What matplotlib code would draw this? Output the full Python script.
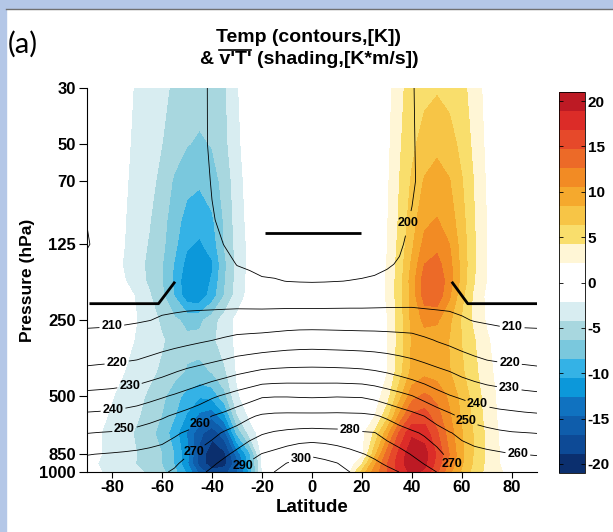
import numpy as np
import matplotlib
matplotlib.use("Agg")
import matplotlib.pyplot as plt
from matplotlib.patches import Rectangle
from matplotlib.lines import Line2D
from matplotlib.ticker import NullLocator

plt.rcParams['font.family'] = ['Liberation Sans', 'DejaVu Sans']
plt.rcParams['font.weight'] = 'bold'
plt.rcParams['axes.labelweight'] = 'bold'
plt.rcParams['axes.unicode_minus'] = False

# grid: latitude -90..90 every 5 deg, pressure levels in hPa
lat = np.arange(-90, 91, 5)
plev = [30, 50, 70, 100, 125, 150, 175, 200, 250, 300, 400, 500, 600, 700, 850, 925, 1000]

# zonal mean temperature [K]  (cols: -90..-50 | -45..-5 | 0 | 5..45 | 50..90)
temp = [
    [205, 205, 205, 204.8, 204.5, 204, 203.5, 203, 202.5,
     202, 198.8, 197.5, 196.8, 196.5, 196.3, 196.2, 196.1, 196, 196,
     196, 196.1, 196.2, 196.3, 196.5, 196.8, 197.6, 199.5, 202.5,
     203, 203.5, 204, 204.4, 204.7, 204.9, 205, 205, 205],
    [205.5, 205.4, 205.2, 205, 204.6, 204.2, 203.7, 203.2, 202.7,
     202.1, 198.8, 197.6, 197, 196.6, 196.4, 196.3, 196.2, 196.1, 196,
     196.1, 196.2, 196.3, 196.4, 196.6, 197, 197.8, 199.3, 202.3,
     203, 203.6, 204.1, 204.6, 205, 205.2, 205.4, 205.5, 205.5],
    [206, 205.8, 205.6, 205.3, 205, 204.6, 204.1, 203.6, 203.1,
     202.5, 199.6, 198, 197.3, 196.8, 196.6, 196.4, 196.3, 196.2, 196,
     196.2, 196.3, 196.4, 196.6, 196.8, 197.3, 198, 199.2, 202,
     203, 203.7, 204.3, 204.8, 205.2, 205.5, 205.8, 206, 206],
    [209.8, 207, 206.5, 206, 205.6, 205.2, 204.7, 204.1, 203.3,
     202, 200.5, 198.5, 197.6, 197.1, 196.8, 196.6, 196.5, 196.5, 196.5,
     196.5, 196.5, 196.6, 196.8, 197.1, 197.6, 198.5, 200.5, 202.2,
     203.3, 204.1, 204.8, 205.3, 205.7, 206.1, 206.4, 206.7, 207],
    [210.6, 208, 207, 206.5, 206, 205.6, 205.1, 204.5, 203.8,
     203, 202, 199.8, 198.5, 197.8, 197.4, 197.1, 197, 197, 197,
     197, 197, 197.1, 197.4, 197.9, 198.6, 199.3, 201.5, 203,
     203.9, 204.6, 205.2, 205.7, 206.1, 206.5, 206.8, 207, 207.2],
    [208, 207.5, 207.2, 206.9, 206.5, 206.1, 205.6, 205.1, 204.5,
     203.7, 203, 202, 199.8, 199.2, 198.5, 198.2, 198.1, 198, 198,
     198, 198.1, 198.2, 198.6, 199.1, 199.4, 200.5, 202.5, 203.7,
     204.5, 205.1, 205.6, 206.1, 206.5, 206.9, 207.1, 207.3, 207.4],
    [207.5, 207.3, 207.2, 207, 206.8, 206.6, 206.3, 206, 205.6,
     205.1, 204.5, 203.6, 202.5, 201.5, 200.6, 200.4, 199.9, 199.7, 199.6,
     199.7, 199.9, 200.1, 200.3, 200.5, 201.5, 202.8, 204.3, 205,
     205.5, 205.9, 206.3, 206.6, 206.9, 207.1, 207.3, 207.4, 207.5],
    [207.5, 207.5, 207.5, 207.5, 207.5, 207.5, 207.5, 207, 206.8,
     206.5, 206.2, 206, 205.8, 205.5, 205.3, 205.2, 205, 204.8, 204.7,
     204.8, 205, 205.2, 205.3, 205.5, 205.8, 206, 206.2, 206.5,
     206.8, 207, 207.5, 207.5, 207.5, 207.5, 207.5, 207.5, 207.5],
    [208.5, 208.6, 208.8, 209, 209.4, 209.9, 210.7, 211.4, 212.1,
     212.6, 213.1, 213.6, 214.1, 214.3, 214.4, 214.7, 215.1, 215.4, 215.4,
     215.4, 215.3, 215.2, 215.1, 215.1, 215, 214.9, 214.7, 213.5,
     212.6, 211.9, 210.6, 209.7, 209.3, 208.9, 208.7, 208.6, 208.5],
    [212.4, 212.6, 212.9, 213.4, 213.9, 214.9, 216.1, 217, 217.9,
     218.9, 219.9, 221.2, 222.5, 223, 223.5, 224.2, 224.9, 225.3, 225.5,
     225.3, 225.1, 224.9, 224.7, 224.5, 224.1, 223.6, 223.1, 221.4,
     219.5, 218, 216.3, 214.7, 213.4, 212.8, 212.6, 212.5, 212.4],
    [222, 222.5, 222.9, 223.5, 224.2, 225.9, 227.6, 229.6, 231.6,
     233.2, 234.8, 236.4, 238.3, 239.8, 241.4, 242.1, 242.5, 242.7, 242.8,
     242.7, 242.5, 242.2, 241.7, 240.7, 239.3, 237.5, 235.6, 233.9,
     232, 230.1, 227.8, 226, 224.4, 223.6, 223.1, 222.5, 221.9],
    [232.6, 233, 233.5, 234.5, 235.6, 237.3, 239.1, 241, 243.2,
     245.7, 248.7, 251.2, 253.8, 256.3, 259.1, 259.5, 259.5, 259.2, 259,
     259.2, 259.5, 259.3, 259.1, 257.5, 255.1, 252.8, 250.3, 246.7,
     243.2, 240.5, 238.5, 236.7, 235.3, 234.2, 233.4, 232.6, 232],
    [242, 242.4, 242.8, 243.8, 245, 246.8, 248.8, 251.2, 253.6,
     256.3, 260.1, 262.6, 265.8, 268.9, 271.2, 272, 272.2, 272.2, 272.2,
     272.2, 272.3, 272.1, 271.9, 271, 268.5, 265.5, 263, 259.9,
     255.7, 252.1, 248.5, 246, 244.5, 243.4, 242.7, 242, 241.5],
    [249.8, 250.3, 250.7, 251.8, 252.9, 254.5, 256.2, 258.7, 261.1,
     264, 267.7, 271, 273.5, 276.4, 279.2, 280.9, 282, 282.8, 283.2,
     282.8, 282.5, 281.8, 280.8, 280.3, 277.2, 274, 271.4, 268.9,
     264.3, 260.6, 257.7, 254.9, 252.9, 251.5, 250.6, 250.2, 249.8],
    [259.7, 260.2, 260.7, 261.2, 261.8, 262.6, 263.5, 265.7, 269.4,
     272.3, 275.2, 278.5, 282.2, 286.7, 290.4, 292.6, 295.4, 298.1, 299.3,
     298.1, 295.6, 293, 290.5, 288.2, 285.3, 282.9, 279.5, 276.2,
     273.2, 267, 264.5, 263.3, 262.3, 261.3, 260.2, 259.9, 259.6],
    [262.4, 262.9, 263.4, 264, 264.6, 265.4, 266.2, 268.9, 272.1,
     275.1, 278.5, 282.4, 286.4, 291, 293.7, 296.6, 300.3, 301.5, 301.8,
     301.5, 300.3, 296.8, 294, 291.7, 288.8, 286.4, 283.1, 279.6,
     276.6, 270.3, 267.3, 265.9, 264.9, 264, 263.1, 262.6, 262.3],
    [265, 265.5, 266, 266.7, 267.5, 268.2, 269, 271, 274.5,
     278, 281.8, 286.4, 290.2, 293.8, 297, 300.1, 302, 303.5, 304,
     303.5, 302, 300.1, 297.6, 295, 292.5, 289.9, 286.7, 283.3,
     279.9, 275, 269.8, 268.5, 267.5, 266.7, 266, 265.5, 265],
]

# eddy heat flux v'T' [K m/s]
vt = [
    [0, 0, -0.3, -1.2, -2.5, -3.2, -3.8, -4.5, -5.2,
     -5.6, -5.4, -4.5, -2.3, -0.8, -0.3, 0, 0, 0, 0,
     0, 0, 0, 0, 0.2, 1.2, 3.6, 5.2, 5.8,
     6.1, 5.7, 4.8, 3.2, 1.3, 0.4, 0, 0, 0],
    [0, 0, -0.5, -1.6, -2.7, -3.5, -4.2, -5.2, -6.2,
     -6.6, -6.2, -4.8, -2.6, -1, -0.4, -0.1, 0, 0, 0,
     0, 0, 0, 0.1, 0.3, 1.5, 3.9, 5.8, 7.2,
     7.9, 7.2, 5.6, 3.6, 1.6, 0.5, 0.1, 0, 0],
    [0, -0.2, -0.8, -1.8, -2.9, -3.8, -4.6, -6.7, -7.8,
     -8.1, -7.2, -5.6, -3, -1.2, -0.5, -0.1, 0, 0, 0,
     0, 0, 0.1, 0.2, 0.4, 1.7, 4.2, 6.6, 8.6,
     9.3, 8.5, 6.4, 4, 1.8, 0.6, 0.1, 0, 0],
    [0, -0.3, -1, -2, -3.1, -4.1, -5.5, -7.5, -9.2,
     -9.8, -8.8, -6, -3.3, -1.4, -0.6, -0.2, 0, 0, 0,
     0, 0, 0.1, 0.2, 0.5, 1.9, 4.5, 7.4, 10,
     10.6, 9.5, 7, 4.2, 2, 0.7, 0.2, 0, 0],
    [0, -0.4, -1.1, -2.1, -3.3, -4.4, -5.8, -7.9, -10.2,
     -10.8, -9.6, -6.2, -3.5, -1.6, -0.7, -0.2, 0, 0, 0,
     0, 0, 0.1, 0.2, 0.6, 2, 4.8, 8, 11.2,
     12, 10.5, 7.4, 4.4, 2.1, 0.8, 0.2, 0, 0],
    [0, -0.4, -1.2, -2.3, -3.5, -4.7, -6.2, -8.6, -11.3,
     -12, -10.8, -6.8, -3.6, -1.6, -0.7, -0.2, 0, 0, 0,
     0, 0, 0.1, 0.3, 0.7, 2.2, 5.1, 8.8, 12.6,
     13.3, 11.2, 7.6, 4.4, 2.1, 0.8, 0.2, 0, 0],
    [0, -0.3, -1, -2, -3.2, -4.6, -6.3, -8.9, -12.2,
     -12.4, -10.2, -6.5, -3.5, -1.5, -0.6, -0.2, 0, 0, 0,
     0, 0, 0.1, 0.3, 0.7, 2.3, 5.3, 9.4, 13.8,
     14.3, 11.5, 7.5, 4.2, 2, 0.7, 0.2, 0, 0],
    [0, -0.2, -0.6, -1.4, -2.3, -4, -5.8, -8.5, -11.8,
     -12, -9.5, -6.2, -3.3, -1.4, -0.5, -0.1, 0, 0, 0,
     0, 0, 0.1, 0.3, 0.7, 2.3, 5.3, 9.2, 13.5,
     13.9, 10.8, 6.8, 3.6, 1.6, 0.5, 0.1, 0, 0],
    [0, -0.2, -0.6, -1.3, -2.1, -3.2, -4.6, -5.9, -6.9,
     -6.8, -5.2, -3.2, -1.6, -0.7, -0.3, 0, 0, 0, 0,
     0, 0, 0.1, 0.3, 0.6, 2, 5.2, 9, 11,
     10.8, 8.8, 6, 3.6, 1.8, 0.6, 0.1, 0, 0],
    [0, -0.3, -0.8, -1.5, -2.3, -3.1, -4, -5, -5.8,
     -5.7, -4.7, -3.1, -1.7, -0.8, -0.3, -0.1, 0, 0, 0,
     0, 0, 0.1, 0.3, 0.6, 1.9, 5, 8.6, 9.5,
     9.4, 8.3, 6.2, 4.3, 2.4, 1, 0.3, 0.1, 0],
    [-0.2, -0.6, -1.3, -2.1, -2.9, -3.7, -4.6, -5.6, -6.5,
     -6.8, -6.2, -4.6, -1.9, -0.8, -0.3, -0.1, 0, 0, 0,
     0, 0, 0.1, 0.3, 0.6, 2, 5.4, 9, 9.9,
     9.6, 8.5, 6.6, 4.7, 2.8, 1.3, 0.4, 0.1, 0],
    [-0.8, -1.2, -2, -2.8, -3.6, -4.6, -5.8, -7.5, -9.2,
     -10.3, -9.8, -7, -2.4, -1, -0.4, -0.1, 0, 0, 0,
     0, 0, 0.1, 0.4, 1, 3.2, 7.6, 11.8, 13,
     12, 10, 7.6, 5.3, 3.2, 1.6, 0.6, 0.2, 0],
    [-1.2, -1.6, -2.4, -3.2, -4, -5, -6.4, -8.3, -10.8,
     -13.2, -14.2, -11, -4.5, -1.8, -0.5, -0.1, 0, 0, 0,
     0, 0, 0.1, 0.4, 2, 5.5, 11, 15.2, 15.8,
     13.5, 10.8, 8, 5.6, 3.4, 1.7, 0.6, 0.2, 0],
    [-1.5, -2, -2.8, -3.6, -4.5, -5.6, -7.2, -9.5, -12.8,
     -16.2, -18.2, -15.5, -8, -3.5, -1, -0.2, 0, 0, 0,
     0, 0, 0.3, 1.5, 4.5, 9.5, 15, 18.5, 18,
     15, 11.5, 8.5, 6, 3.7, 1.9, 0.7, 0.2, 0],
    [-1.5, -2, -2.6, -3.4, -4.2, -5, -6.3, -8.5, -12,
     -17.5, -20.5, -19.5, -14, -9, -1.5, -0.3, 0, 0, 0,
     0, 0, 0.2, 1.5, 7.5, 13.5, 17.5, 20.5, 19.8,
     16.5, 12.5, 8.8, 6, 3.8, 2.1, 0.9, 0.3, 0],
    [-1.6, -2.2, -2.8, -3.5, -4.3, -5.1, -6.4, -8.6, -12.2,
     -17.8, -20.2, -19.8, -15.5, -9.5, -2, -0.5, -0.1, 0, 0,
     0, 0.1, 0.8, 4, 10, 14.5, 18, 20.5, 19.5,
     16, 12, 8.6, 5.8, 3.7, 2.1, 0.9, 0.3, 0],
    [-1.4, -2, -2.5, -3.1, -3.8, -4.6, -5.8, -7.8, -11,
     -15.5, -18.2, -17.5, -15, -10, -2.2, -0.6, -0.2, 0, 0,
     0, 0.2, 1.8, 7, 11.5, 14.5, 17.5, 19.5, 18.5,
     15, 11, 8, 5.4, 3.6, 2.4, 1.2, 0.4, 0],
]

temp = np.array(temp)
vt = np.array(vt)
assert temp.shape == (len(plev), len(lat)) and vt.shape == temp.shape

t_levels = np.arange(200, 301, 10)
vt_levels = np.linspace(-21, 21, 21)
vt_colors = ['#0b2f6e', '#0d4a96', '#0f5dab', '#1072c0', '#0c98da',
             '#34b2e6', '#7ac8dd', '#a8d7df', '#d8edf1', '#ffffff',
             '#ffffff', '#fff6d6', '#f9de6c', '#f7c546', '#f5a92d',
             '#f28b24', '#ec6a28', '#e6492a', '#dc2c28', '#bd1a24']

# tropopause markers
trop_l_lat, trop_l_p = [-89, -61.4, -54.8], [215, 215, 176]
trop_m_lat, trop_m_p = [-18.8, 19.4], [113, 113]
trop_r_lat, trop_r_p = [55.9, 62.3, 90], [176, 215, 215]

# contour label spots (lat, hPa)
lab_lat = [-80, -78, -73, -79.6, -75, -45.5, -47.5, -27.5, 15.3, -4.7,
           38.7, 80, 79, 78.9, 66.2, 61.5, 82.3, 55.5]
lab_p = [269, 372, 453, 565, 676, 631, 818, 949, 672, 862,
         103, 275, 370, 465, 536, 627, 860, 940]

W, H = 613, 532
fig = plt.figure(figsize=(W / 100, H / 100), dpi=100)

# light blue frame on top/left like the slide
fig.patches.append(Rectangle((0, 1 - 8 / H), 1, 8 / H, transform=fig.transFigure,
                             color='#b4c7e7', zorder=0))
fig.patches.append(Rectangle((0, 0), 6 / W, 1, transform=fig.transFigure,
                             color='#b4c7e7', zorder=0))
fig.add_artist(Line2D([6 / W, 1], [1 - 8.5 / H, 1 - 8.5 / H], transform=fig.transFigure,
                      color='#707070', lw=1))

ax = fig.add_axes([87 / W, 60 / H, 450 / W, 384 / H])
ax.set_yscale('log')
cf = ax.contourf(lat, plev, vt, levels=vt_levels, colors=vt_colors)
cs = ax.contour(lat, plev, temp, levels=t_levels, colors='k', linewidths=0.6)
ax.set_xlim(-90, 90)
ax.set_ylim(1000, 30)

ax.plot(trop_l_lat, trop_l_p, color='k', lw=2, solid_capstyle='butt')
ax.plot(trop_m_lat, trop_m_p, color='k', lw=2, solid_capstyle='butt')
ax.plot(trop_r_lat, trop_r_p, color='k', lw=2, solid_capstyle='butt')

labels = ax.clabel(cs, fmt='%d', fontsize=9, inline=True, inline_spacing=2,
                   manual=list(zip(lab_lat, lab_p)))
for t in labels:
    t.set_rotation(0)
    t.set_fontweight('bold')

ax.set_xticks(range(-80, 81, 20))
ax.set_yticks([30, 50, 70, 125, 250, 500, 850, 1000])
ax.set_yticklabels(['30', '50', '70', '125', '250', '500', '850', '1000'])
ax.yaxis.set_minor_locator(NullLocator())
ax.tick_params(axis='both', labelsize=12, direction='out', width=0.8, pad=2)
ax.tick_params(axis='y', length=6)
ax.tick_params(axis='x', length=4)
for s in ['top', 'right']:
    ax.spines[s].set_visible(False)
for s in ['left', 'bottom']:
    ax.spines[s].set_linewidth(0.8)
ax.set_xlabel('Latitude', fontsize=13.5, labelpad=3)
ax.set_ylabel('Pressure (hPa)', fontsize=12.5, labelpad=3)

cax = fig.add_axes([559 / W, 59 / H, 26 / W, 381 / H])
cb = fig.colorbar(cf, cax=cax, ticks=range(-20, 21, 5))
cb.ax.tick_params(direction='in', length=3, width=0.6, left=True, right=True,
                  labelsize=11, pad=2)
cb.ax.minorticks_off()
cb.outline.set_linewidth(0.6)

# panel letter and two-line title
fig.text(8 / W, 1 - 44 / H, '(a)', fontsize=21, family='Lato', weight='normal',
         ha='left', va='center')
title_fs = 14
xc = (87 + 222) / W
fig.text(xc, 1 - 38 / H, 'Temp (contours,[K])', fontsize=title_fs, ha='center', va='center')
line2 = "& v'T' (shading,[K*m/s])"
t2 = fig.text(xc, 1 - 59 / H, line2, fontsize=title_fs, ha='center', va='center')

# bar over v'T'
fig.canvas.draw()
r = fig.canvas.get_renderer()
bb = t2.get_window_extent(r)
tmp = fig.text(0, 0, "& v'T'", fontsize=title_fs)
w1 = tmp.get_window_extent(r).width
tmp.remove()
tmp = fig.text(0, 0, "v'T'", fontsize=title_fs)
w2 = tmp.get_window_extent(r).width
tmp.remove()
x1, x2 = bb.x0 + w1 - w2, bb.x0 + w1
yb = bb.y1 + 0.5
fig.add_artist(Line2D([x1 / W, x2 / W], [yb / H, yb / H], transform=fig.transFigure,
                      color='k', lw=1.2))

fig.savefig('out.png', dpi=100)
